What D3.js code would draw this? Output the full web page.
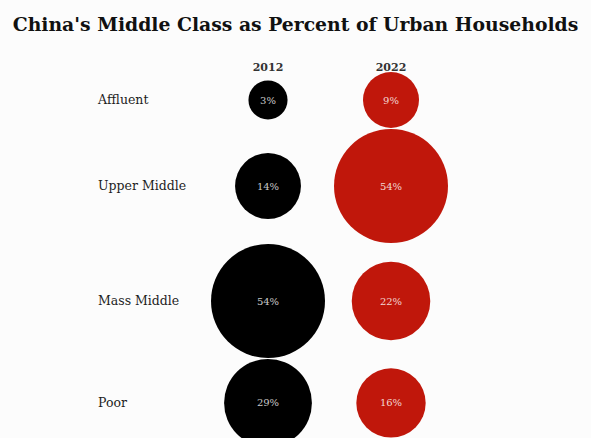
<!DOCTYPE html>
<html>
<head>
<meta charset="utf-8">
<script src="https://cdn.jsdelivr.net/npm/d3@7"></script>
<style>
  html, body { margin: 0; padding: 0; background: #fcfcfc; }
  svg { display: block; }
  text { font-family: "DejaVu Serif", "Liberation Serif", serif; }
</style>
</head>
<body>
<div id="chart"></div>
<script>
// Data
const categories = ['Affluent', 'Upper Middle', 'Mass Middle', 'Poor'];
const years = ['2012', '2022'];
const values2012 = [3, 14, 54, 29];
const values2022 = [9, 54, 22, 16];
const colors = ['#000000', '#c0170b'];

const width = 591;
const height = 438;

const svg = d3.select('#chart').append('svg')
    .attr('width', width)
    .attr('height', height);

svg.append('rect')
    .attr('width', width)
    .attr('height', height)
    .attr('fill', '#fcfcfc');

// Title
const title = svg.append('text')
    .attr('x', width / 2)
    .attr('y', 31)
    .attr('text-anchor', 'middle')
    .attr('font-weight', 'bold')
    .attr('font-size', 19)
    .attr('fill', '#111')
    .text("China's Middle Class as Percent of Urban Households");
// fit title to the width it has in the original
const tw = title.node().getComputedTextLength();
title.attr('font-size', 19 * 566 / tw);

// Scales
const r = d3.scaleSqrt()
    .domain([0, d3.max(values2012.concat(values2022))])
    .range([8, 57]);

const x = d3.scalePoint()
    .domain(years)
    .range([268, 391]);

// stack rows by their biggest bubble
const rowGap = 1;
const rowY = [];
categories.forEach((c, i) => {
    const maxR = Math.max(r(values2012[i]), r(values2022[i]));
    if (i === 0) {
        rowY.push(100);
    } else {
        const prevR = Math.max(r(values2012[i - 1]), r(values2022[i - 1]));
        rowY.push(rowY[i - 1] + prevR + rowGap + maxR);
    }
});

// Column headers
svg.selectAll('text.year')
    .data(years)
    .enter().append('text')
    .attr('class', 'year')
    .attr('x', d => x(d))
    .attr('y', 71)
    .attr('text-anchor', 'middle')
    .attr('font-size', 11)
    .attr('font-weight', 'bold')
    .attr('fill', '#333')
    .text(d => d);

// Row labels
svg.selectAll('text.cat')
    .data(categories)
    .enter().append('text')
    .attr('class', 'cat')
    .attr('x', 98)
    .attr('y', (d, i) => rowY[i])
    .attr('dy', '0.35em')
    .attr('font-size', 12.5)
    .attr('fill', '#1e1e1e')
    .text(d => d);

// Bubbles
const series = [values2012, values2022];
series.forEach((vals, s) => {
    const g = svg.append('g').attr('class', 'series-' + years[s]);

    g.selectAll('circle')
        .data(vals)
        .enter().append('circle')
        .attr('cx', x(years[s]))
        .attr('cy', (d, i) => rowY[i])
        .attr('r', d => r(d))
        .attr('fill', colors[s]);

    g.selectAll('text')
        .data(vals)
        .enter().append('text')
        .attr('x', x(years[s]))
        .attr('y', (d, i) => rowY[i])
        .attr('dy', '0.35em')
        .attr('text-anchor', 'middle')
        .attr('font-size', 10)
        .attr('fill', s === 0 ? '#c8c8c8' : '#f2d6d2')
        .text(d => d + '%');
});
</script>
</body>
</html>
